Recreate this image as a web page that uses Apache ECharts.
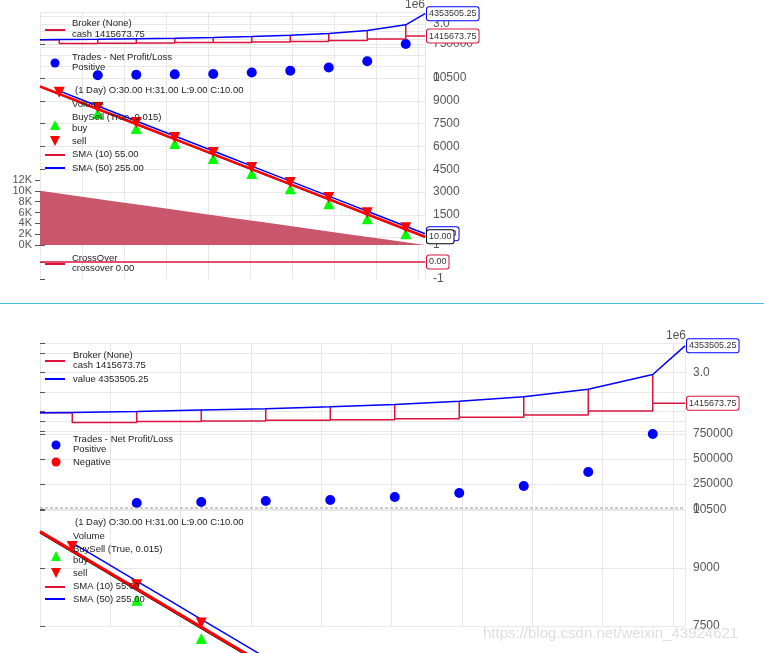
<!DOCTYPE html>
<html><head><meta charset="utf-8">
<script src="https://cdn.jsdelivr.net/npm/echarts@6/dist/echarts.min.js"></script>
<style>html,body{margin:0;padding:0;background:#fff}#c{width:764px;height:653px}</style>
</head><body><div id="c"></div>
<script>
// ---- data (bar index based) ----
const priceBars = [0,5,10,15,20,25,30,35,40,45,50,55,60,65,70,75,80,85,90,95,100];
const closes = [9900,9405,8911,8416,7922,7427,6933,6438,5944,5449,4955,4460,3966,3471,2977,2482,1988,1493,999,504,10];
const sma10 = [9945,9450,8956,8461,7967,7472,6978,6483,5989,5494,5000,4505,4011,3516,3022,2527,2033,1538,1044,549,55];
const sma50Bars = [5,10,15,20,25,30,35,40,45,50,55,60,65,70,75,80,85,90,95,100];
const sma50 = [9650,9156,8661,8167,7672,7178,6683,6189,5694,5200,4705,4211,3716,3222,2727,2233,1738,1244,749,255];
const volBars = [0,10,20,30,40,50,60,70,80,90,100];
const volume = [10000,9000,8000,7000,6000,5000,4000,3000,2000,1000,0];
const tradeBars = [15,25,35,45,55,65,75,85,95];
const buyPrices = [8166,7177,6188,5199,4210,3221,2232,1243,254];
const sellBars = [5,15,25,35,45,55,65,75,85,95];
const sellPrices = [9555,8566,7577,6588,5599,4610,3621,2632,1643,654];
const tradePnL = [60000,70000,80000,90000,120000,160000,230000,370000,750000];
const valueBars = [0,5,15,25,35,45,55,65,75,85,95,100];
const valueM = [0.93,0.95,1.00,1.07,1.14,1.24,1.36,1.52,1.75,2.13,2.89,4.3535];
const cashLowsM = [0.44,0.48,0.51,0.55,0.58,0.63,0.70,0.82,1.02];
const cashStartM = 0.93, cashEnd = 1415673.75, valueEnd = 4353505.25;
const crossBars = [0,100], crossover = [0,0];

const pr = (xs, ys, k=1) => xs.map((x,i)=>[x, ys[i]*k]);
const cashPts = [[0,cashStartM*1e6],[5,cashStartM*1e6],[5,cashLowsM[0]*1e6]];
tradeBars.forEach((b,i)=>{
  const vi = valueBars.indexOf(b);
  cashPts.push([b, cashLowsM[i]*1e6]);
  cashPts.push([b, valueM[vi]*1e6]);
  cashPts.push([b, i<cashLowsM.length-1 ? cashLowsM[i+1]*1e6 : cashEnd]);
});
cashPts.push([100, cashEnd]);
const valuePts = pr(valueBars, valueM, 1e6); valuePts[valuePts.length-1][1]=valueEnd;

const chart = echarts.init(document.getElementById('c'));
const FONT='Liberation Sans';
const G = [
 {l:40,w:385,t:12.6,h:34.2},{l:40,w:385,t:44,h:34},{l:40,w:385,t:78,h:159.6},{l:40,w:385,t:180,h:65},{l:40,w:385,t:245,h:34},
 {l:40,w:645,t:343,h:88},{l:40,w:645,t:421,h:88},{l:40,w:645,t:510,h:116}
];
const grids = G.map(g=>({left:g.l,width:g.w,top:g.t,height:g.h,containLabel:false}));
const xAxes=[], yAxes=[];
const lbl = {color:'#555',fontSize:12,fontFamily:FONT,formatter:v=>String(v),showMinLabel:true,showMaxLabel:true};
const tick = {show:true,length:5,inside:false,lineStyle:{color:'#555'}};
G.forEach((g,i)=>{ xAxes.push({type:'value',gridIndex:i,min:0,max:100,show:false}); });
G.forEach((g,i)=>{
  xAxes.push({type:'value',gridIndex:i,min:0,max:9.17,interval:1,axisLabel:{show:false},axisLine:{show:false},axisTick:{show:false},
    splitLine:{show:i!==3,lineStyle:{color:'#e8e8e8'}}});
});
const ydef = (i,o)=>Object.assign({type:'value',gridIndex:i,position:'right',axisLine:{show:false},axisTick:tick,axisLabel:lbl,splitLine:{lineStyle:{color:'#e8e8e8'}}},o);
yAxes.push(ydef(0,{min:0,max:4.5e6,interval:1e6,axisLabel:Object.assign({},lbl,{formatter:v=>v===3e6?'3.0':''}),axisTick:{show:false}}));
yAxes.push(ydef(1,{min:0,max:750000,interval:250000}));
yAxes.push(ydef(2,{min:0,max:10500,interval:1500}));
yAxes.push(ydef(3,{min:0,max:12000,interval:2000,position:'left',splitLine:{show:false},axisLabel:Object.assign({},lbl,{fontSize:11,lineHeight:10,interval:0,hideOverlap:false,formatter:v=>(v/1000)+'K'})}));
yAxes.push(ydef(4,{min:-1,max:1,interval:1,splitLine:{show:false},axisLabel:Object.assign({},lbl,{formatter:v=>v===0?'':String(v)})}));
yAxes.push(ydef(5,{min:0,max:4.5e6,interval:1e6,axisLabel:Object.assign({},lbl,{formatter:v=>v===3e6?'3.0':''})}));
yAxes.push(ydef(6,{min:0,max:880000,interval:250000,axisLabel:Object.assign({},lbl,{formatter:v=>v%250000===0?String(v):''})}));
yAxes.push(ydef(7,{min:7500,max:10500,interval:1500}));

const endLbl=(c,txt)=>({show:true,formatter:txt,fontSize:9,fontFamily:FONT,color:'#333',backgroundColor:'#fff',borderColor:c,borderWidth:1,borderRadius:2,padding:[2,2],distance:2});
const series=[];
function broker(gi){
  series.push({type:'line',xAxisIndex:gi,yAxisIndex:gi,data:cashPts,symbol:'none',lineStyle:{color:'#dc143c',width:1.5},endLabel:endLbl('#dc143c','1415673.75'),z:3});
  series.push({type:'line',xAxisIndex:gi,yAxisIndex:gi,data:valuePts,symbol:'none',lineStyle:{color:'#0000ff',width:1.5},endLabel:endLbl('#0000ff','4353505.25'),z:4});
}
function trades(gi){
  series.push({type:'scatter',xAxisIndex:gi,yAxisIndex:gi,data:pr(tradeBars,tradePnL),symbolSize:10,itemStyle:{color:'#0000ff',opacity:1}});
}
function price(gi,lw,clip){
  series.push({type:'line',clip:clip,xAxisIndex:gi,yAxisIndex:gi,data:pr(sma50Bars,sma50),symbol:'none',lineStyle:{color:'#0000ff',width:1.5},endLabel:endLbl('#0000ff','255.00'),z:3});
  series.push({type:'line',clip:clip,xAxisIndex:gi,yAxisIndex:gi,data:pr(priceBars,closes),symbol:'none',lineStyle:{color:'#000',width:1},z:3});
  series.push({type:'line',clip:clip,xAxisIndex:gi,yAxisIndex:gi,data:pr(priceBars,sma10),symbol:'none',lineStyle:{color:'#ff0000',width:lw},endLabel:endLbl('#000','10.00'),z:4});
  series.push({type:'scatter',clip:clip,xAxisIndex:gi,yAxisIndex:gi,data:pr(tradeBars,buyPrices),symbol:'triangle',symbolSize:[11,11],itemStyle:{color:'#00ff00',opacity:1},z:5});
  series.push({type:'scatter',clip:clip,xAxisIndex:gi,yAxisIndex:gi,data:pr(sellBars,sellPrices),symbol:'triangle',symbolRotate:180,symbolSize:[11,11],itemStyle:{color:'#ff0000',opacity:1},z:5});
}
broker(0); trades(1); price(2,2.5,true);
series.push({type:'line',xAxisIndex:3,yAxisIndex:3,data:pr(volBars,volume),symbol:'none',lineStyle:{width:0},areaStyle:{color:'#c9566b',opacity:1},z:1});
series.push({type:'line',xAxisIndex:4,yAxisIndex:4,data:pr(crossBars,crossover),symbol:'none',lineStyle:{color:'#dc143c',width:1.5},endLabel:endLbl('#dc143c','0.00')});
broker(5); trades(6); price(7,3,false);

const T=(x,y,s)=>({type:'text',x:x,y:y,style:{text:s,fontSize:9.5,fontFamily:FONT,fill:'#222',verticalAlign:'middle'},z:100});
const L=(x,y,c)=>({type:'line',shape:{x1:x,y1:y,x2:x+20,y2:y},style:{stroke:c,lineWidth:2},z:100});
const D=(x,y,c)=>({type:'circle',shape:{cx:x,cy:y,r:4.5},style:{fill:c},z:100});
const TR=(x,y,c,down)=>({type:'polygon',shape:{points:down?[[x-5,y-5],[x+5,y-5],[x,y+5]]:[[x-5,y+5],[x+5,y+5],[x,y-5]]},style:{fill:c},z:100});
const graphic=[
 {type:'line',shape:{x1:0,y1:303.5,x2:764,y2:303.5},style:{stroke:'#46b8da',lineWidth:1}},
 {type:'text',x:425,y:5,style:{text:'1e6',fontSize:12,fontFamily:FONT,fill:'#555',verticalAlign:'middle',align:'right'}},
 {type:'text',x:686,y:336,style:{text:'1e6',fontSize:12,fontFamily:FONT,fill:'#555',verticalAlign:'middle',align:'right'}},
 T(72,23,'Broker (None)'),T(72,34,'cash 1415673.75'),L(45,30,'#dc143c'),
 T(72,57,'Trades - Net Profit/Loss'),T(72,67,'Positive'),D(55,63,'#0000ff'),
 T(75,90,'(1 Day) O:30.00 H:31.00 L:9.00 C:10.00'),T(72,104,'Volume'),T(72,117,'BuySell (True, 0.015)'),T(72,128,'buy'),TR(55,125,'#00ff00'),
 T(72,141,'sell'),TR(55,141,'#ff0000',true),T(72,154,'SMA (10) 55.00'),L(45,155,'#dc143c'),T(72,168,'SMA (50) 255.00'),L(45,168,'#0000ff'),
 T(72,258,'CrossOver'),T(72,268,'crossover 0.00'),L(45,264,'#dc143c'),
 T(73,355,'Broker (None)'),T(73,365,'cash 1415673.75'),L(45,361,'#dc143c'),T(73,379,'value 4353505.25'),L(45,379,'#0000ff'),
 T(73,439,'Trades - Net Profit/Loss'),T(73,449,'Positive'),D(56,445,'#0000ff'),T(73,462,'Negative'),D(56,462,'#ff0000'),
 T(75,522,'(1 Day) O:30.00 H:31.00 L:9.00 C:10.00'),T(73,536,'Volume'),T(73,549,'BuySell (True, 0.015)'),T(73,560,'buy'),TR(56,556,'#00ff00'),
 T(73,573,'sell'),TR(56,573,'#ff0000',true),T(73,586,'SMA (10) 55.00'),L(45,587,'#dc143c'),T(73,599,'SMA (50) 255.00'),L(45,599,'#0000ff'),
 {type:'line',shape:{x1:40,y1:508,x2:685,y2:508},style:{stroke:'#999',lineWidth:1,lineDash:[3,2]},z:50},
 {type:'text',x:483,y:634,style:{text:'https://blog.csdn.net/weixin_43924621',fontSize:15,fontFamily:FONT,fill:'rgba(200,200,200,0.6)',verticalAlign:'middle'},z:120}
];
chart.setOption({animation:false,grid:grids,xAxis:xAxes,yAxis:yAxes,series:series,graphic:graphic});
</script></body></html>
